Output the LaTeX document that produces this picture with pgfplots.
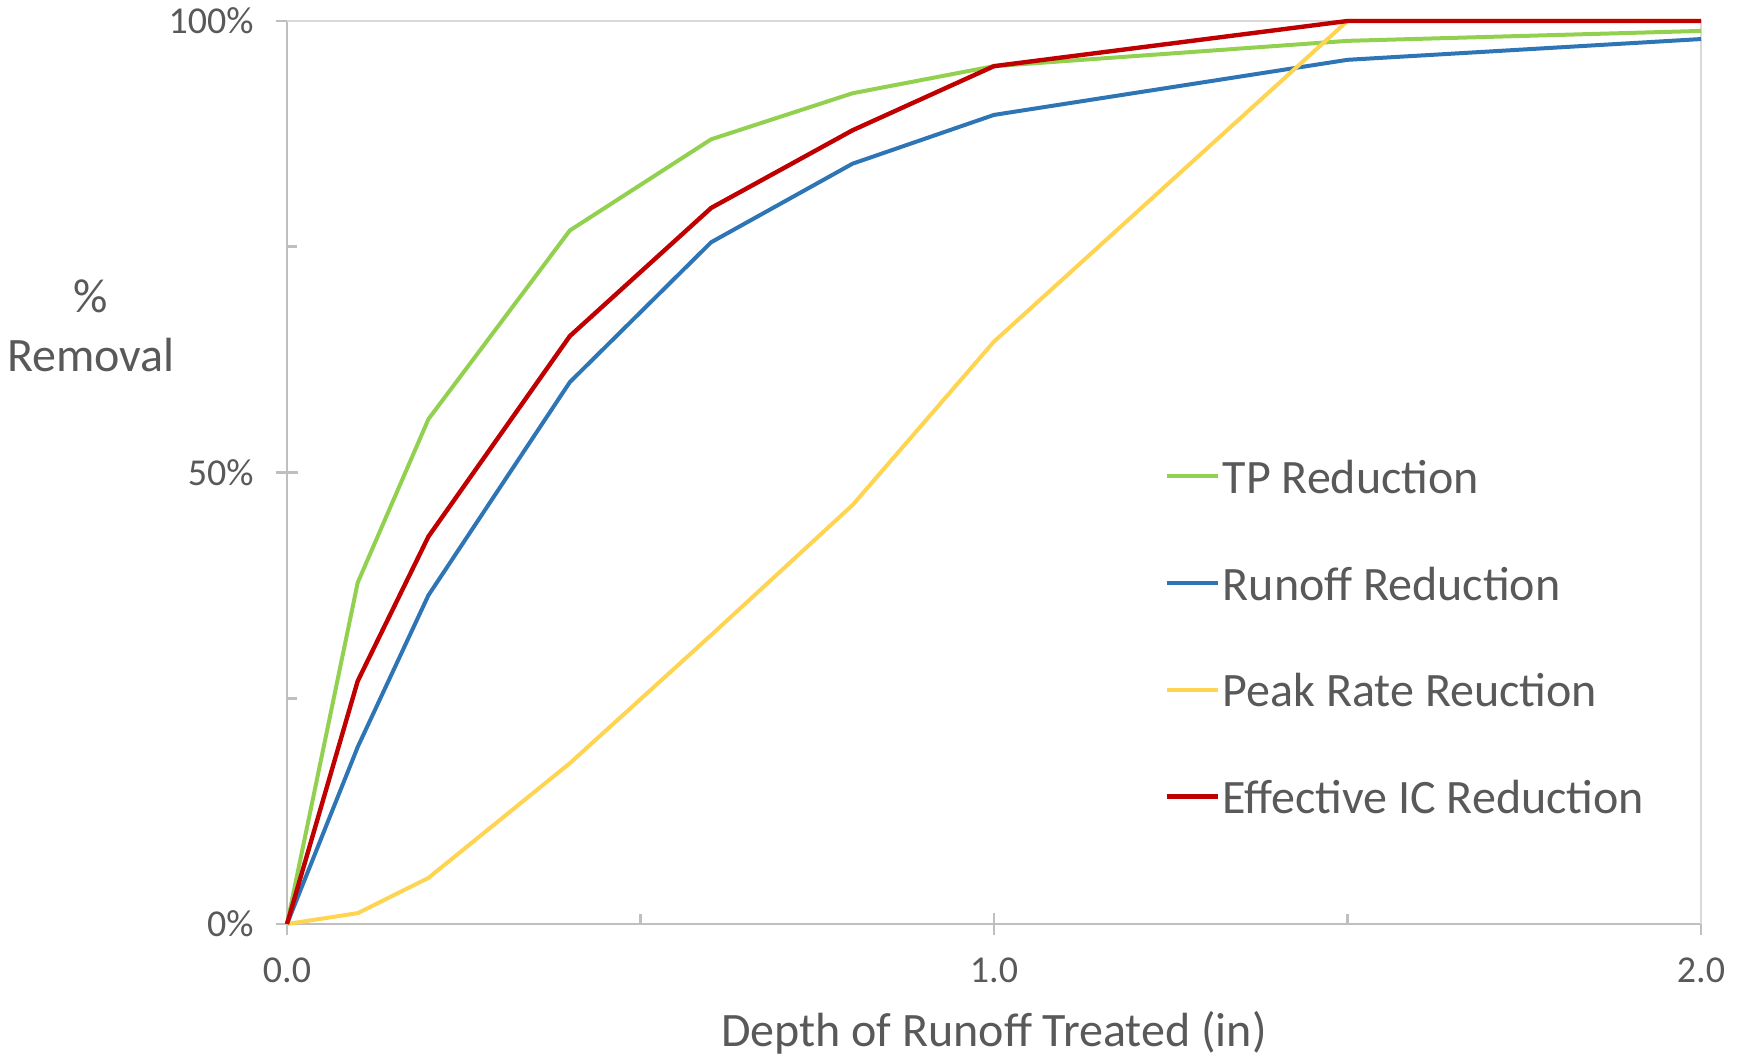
\documentclass[border=0pt]{standalone}
\usepackage{pgfplots}
\pgfplotsset{compat=1.18}
\usepackage{fontspec}
\setmainfont{Carlito}
\definecolor{tpgreen}{RGB}{146,208,80}
\definecolor{rblue}{RGB}{46,117,182}
\definecolor{pyellow}{RGB}{255,212,80}
\definecolor{icred}{RGB}{192,0,0}
\definecolor{txt}{RGB}{89,89,89}
\definecolor{axgray}{RGB}{191,191,191}
\definecolor{boxgray}{RGB}{217,217,217}
\begin{document}
\begin{tikzpicture}
\useasboundingbox (-143.5bp,-66.5bp) rectangle (729.5bp,462bp);
\begin{axis}[
  at={(0,0)}, anchor=south west,
  scale only axis, width=707bp, height=451.5bp,
  xmin=0, xmax=2, ymin=0, ymax=100,
  clip=false,
  axis lines=left,
  axis line style={axgray, line width=1.3bp, -},
  tick align=center,
  major tick length=11bp,
  minor tick length=5bp,
  tick style={axgray, line width=1.3bp},
  minor x tick style={yshift=2.5bp},
  minor y tick style={xshift=2.5bp},
  xtick={0,1,2}, xticklabels={0.0,1.0,2.0},
  minor xtick={0.5,1.5},
  ytick={0,50,100}, yticklabels={0\%,50\%,100\%},
  minor ytick={25,75},
  xticklabel style={font=\fontsize{19bp}{22bp}\selectfont, text=txt, anchor=north, inner sep=0pt, yshift=-11bp},
  yticklabel style={font=\fontsize{19bp}{22bp}\selectfont, text=txt, anchor=east, inner sep=0pt, xshift=-11bp},
  xlabel={Depth of Runoff Treated (in)},
  xlabel style={at={(axis description cs:0.5,-0.1207)}, anchor=center, font=\fontsize{24bp}{28bp}\selectfont, text=txt},
  ylabel={\%\\Removal},
  ylabel style={at={(axis description cs:-0.1386,0.663)}, anchor=center, rotate=-90, align=center, font=\fontsize{24bp}{29.5bp}\selectfont, text=txt},
  legend cell align=left,
  legend image code/.code={\draw[#1] (0bp,0bp) -- (25.5bp,0bp);},
  legend style={draw=none, fill=none, at={(axis cs:1.232,31.84)}, anchor=west,
    font=\fontsize{24bp}{28bp}\selectfont, text=txt,
    nodes={inner sep=0pt, text height=17bp, text depth=0bp},
    row sep=36.35bp, column sep=1.5bp},
]
\draw[boxgray, line width=1.3bp] (axis cs:0,100) -- (axis cs:2,100) -- (axis cs:2,0);
\addplot[tpgreen, line width=2bp] coordinates {
(0,0) (0.1,37.8) (0.2,55.9) (0.4,76.8) (0.6,86.9) (0.8,92.0) (1.0,95.0) (1.5,97.8) (2.0,98.9)};
\addlegendentry{TP Reduction}
\addplot[rblue, line width=2bp] coordinates {
(0,0) (0.1,19.6) (0.2,36.4) (0.4,60.0) (0.6,75.5) (0.8,84.2) (1.0,89.6) (1.5,95.7) (2.0,98.0)};
\addlegendentry{Runoff Reduction}
\addplot[pyellow, line width=2bp] coordinates {
(0,0) (0.1,1.2) (0.2,5.1) (0.4,17.8) (0.6,32.0) (0.8,46.4) (1.0,64.5) (1.5,100) (2.0,100)};
\addlegendentry{Peak Rate Reuction}
\addplot[icred, line width=2.2bp] coordinates {
(0,0) (0.1,26.9) (0.2,42.9) (0.4,65.1) (0.6,79.3) (0.8,87.9) (1.0,95.0) (1.5,100) (2.0,100)};
\addlegendentry{Effective IC Reduction}
\end{axis}
\end{tikzpicture}
\end{document}
